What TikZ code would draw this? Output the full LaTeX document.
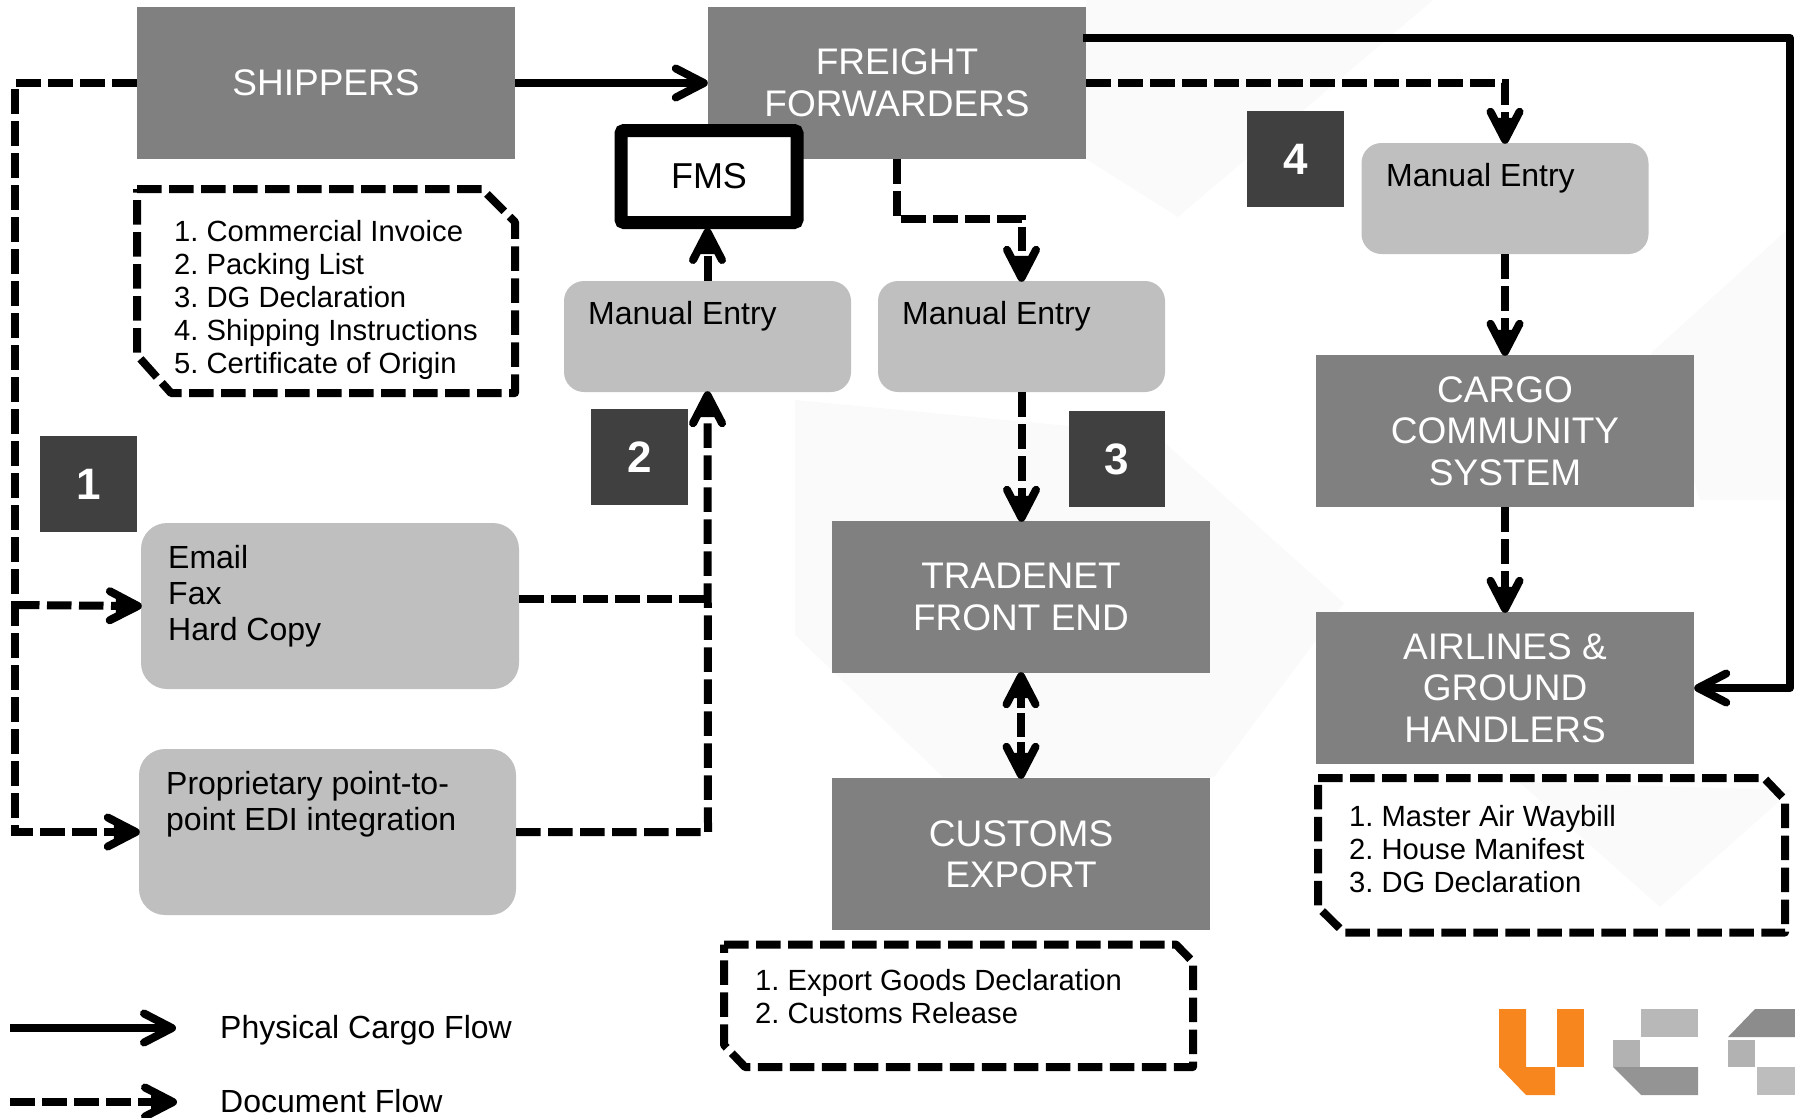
\documentclass[tikz,border=0pt]{standalone}
\usepackage{fontspec}
\setmainfont{Liberation Sans}
\usetikzlibrary{arrows.meta,calc}
\newcommand{\fsz}[2]{\fontsize{#1pt}{#2pt}\selectfont\frenchspacing}
\definecolor{boxgray}{HTML}{808080}
\definecolor{softgray}{HTML}{BFBFBF}
\definecolor{badgegray}{HTML}{404040}
\definecolor{logoorange}{HTML}{F7861E}
\definecolor{markgray}{HTML}{FAFAFA}
\tikzset{
  x=1pt,y=-1pt,
  darkbox/.style={fill=boxgray,text=white,inner sep=0,align=center,font=\fsz{37}{41.5}},
  softbox/.style={fill=softgray,rounded corners=20pt,inner sep=0},
  badge/.style={fill=badgegray,text=white,inner sep=0,font=\fsz{44}{50}\bfseries},
  lbl/.style={inner sep=0,anchor=west,align=left,text=black,font=\fsz{32}{36}},
  listlbl/.style={inner sep=0,anchor=north west,align=left,text=black,font=\fsz{29.2}{33}},
  chev/.tip={Straight Barb[length=28pt,width=29pt,round]},
  dchev/.tip={Straight Barb[length=28pt,width=29pt,round,sep=-26pt] Triangle[length=18pt,width=14pt]},
  solidflow/.style={draw=black,line width=8pt,-chev,line join=round},
  docflow/.style={draw=black,line width=8pt,dash pattern=on 24.5pt off 7.5pt,-dchev,line join=miter,shorten >=7pt},
  docline/.style={draw=black,line width=8pt,dash pattern=on 24.5pt off 7.5pt},
}
\begin{document}
\begin{tikzpicture}
\useasboundingbox (0,0) rectangle (1795,1117);
% faint watermark
\fill[markgray] (795,400) -- (1155,434) -- (1344,603) -- (1214,777) -- (943,777) -- (795,635) -- cycle;
\fill[markgray] (1086,0) -- (1433,0) -- (1178,217) -- (1086,159) -- cycle;
\fill[markgray] (1790,227) -- (1795,500) -- (1700,500) -- (1651,353) -- cycle;
\fill[markgray] (1519,782) -- (1792,790) -- (1660,907) -- cycle;
% dark boxes
\node[darkbox,minimum width=378pt,minimum height=152pt] (ship) at (326,83) {SHIPPERS};
\node[darkbox,minimum width=378pt,minimum height=152pt] (ff) at (897,83) {FREIGHT\\FORWARDERS};
\node[darkbox,minimum width=378pt,minimum height=152pt] (ccs) at (1505,431) {CARGO\\COMMUNITY\\SYSTEM};
\node[darkbox,minimum width=378pt,minimum height=152pt] (air) at (1505,688) {AIRLINES \&\\GROUND\\HANDLERS};
\node[darkbox,minimum width=378pt,minimum height=152pt] (tn) at (1021,597) {TRADENET\\FRONT END};
\node[darkbox,minimum width=378pt,minimum height=152pt] (cus) at (1021,854) {CUSTOMS\\EXPORT};
% FMS
\node[draw=black,fill=white,line width=13pt,rounded corners=3pt,minimum width=176pt,minimum height=92pt,inner sep=0,font=\fsz{36}{40}] (fms) at (709,176.5) {FMS};
% soft boxes
\node[softbox,minimum width=287pt,minimum height=111pt] (me1) at (707.5,336.5) {};
\node[softbox,minimum width=287pt,minimum height=111pt] (me2) at (1021.5,336.5) {};
\node[softbox,minimum width=287pt,minimum height=111pt] (me3) at (1505,198.5) {};
\node[softbox,minimum width=378pt,minimum height=166pt,rounded corners=26pt] (mail) at (330,606) {};
\node[softbox,minimum width=377pt,minimum height=166pt,rounded corners=26pt] (edi) at (327.5,832) {};
\node[lbl] (t1) at (588,316.5) {Manual Entry};
\node[lbl] (t2) at (902,316.5) {Manual Entry};
\node[lbl] (t3) at (1386,178.5) {Manual Entry};
\node[lbl] (t4) at (168,596.5) {Email\\Fax\\Hard Copy};
\node[lbl,anchor=north west] (t5) at (166,771.5) {Proprietary point-to-\\point EDI integration};
% badges
\node[badge,minimum width=97pt,minimum height=96pt] (b1) at (88.5,484) {1};
\node[badge,minimum width=97pt,minimum height=96pt] (b2) at (639.5,457) {2};
\node[badge,minimum width=96pt,minimum height=96pt] (b3) at (1117,459) {3};
\node[badge,minimum width=97pt,minimum height=96pt] (b4) at (1295.5,159) {4};
% document lists
\draw[docline,line join=round] (137,189) -- (482,189) -- (515,222) -- (515,393) -- (171,393) -- (137,355) -- cycle;
\draw[docline,line join=round] (724,944.5) -- (1176,944.5) -- (1193,962) -- (1193,1067) -- (745,1067) -- (724,1045) -- cycle;
\draw[docline,line join=round] (1318,778) -- (1764,778) -- (1785,800) -- (1785,932.5) -- (1344,932.5) -- (1318,907) -- cycle;
\node[listlbl] (l1) at (174,220) {1. Commercial Invoice\\2. Packing List\\3. DG Declaration\\4. Shipping Instructions\\5. Certificate of Origin};
\node[listlbl] (l2) at (755,969) {1. Export Goods Declaration\\2. Customs Release};
\node[listlbl] (l3) at (1349,805) {1. Master Air Waybill\\2. House Manifest\\3. DG Declaration};
% connectors
\draw[solidflow] (ship.east) -- (ff.west);
\coordinate (left) at (15,83);
\coordinate (mailin) at (15,605);
\coordinate (ediin) at (15,832);
\draw[docflow] (ship.west) -- (left) -- (ediin) -- (edi.west);
\draw[docflow] (mailin) -- (mail.west);
\coordinate (vert) at (708,832);
\coordinate (vertm) at (708,599);
\draw[docflow] (edi.east) -- (vert) -- (me1.south);
\draw[docline] (mail.east |- vertm) -- (vertm);
\draw[docflow] (me1.north) -- (me1.north |- fms.south);
\coordinate (ffb) at (897,219);
\draw[docflow] (ff.south) -- (ffb) -| (me2.north);
\draw[docflow] (me2.south) -- (tn.north -| me2.south);
\coordinate (tcup) at (1021,708);
\coordinate (tca) at (1021,713);
\coordinate (tcb) at (1021,737);
\coordinate (tcdn) at (1021,742);
\draw[docline] (tca) -- (tcb);
\draw[draw=black,line width=8pt,-dchev,shorten >=7pt] (tcup) -- (tn.south);
\draw[draw=black,line width=8pt,-dchev,shorten >=7pt] (tcdn) -- (cus.north);
\draw[docflow] (ff.east) -| (me3.north);
\coordinate (ffs) at (1083,38);
\coordinate (ffc) at (1790,38);
\draw[solidflow] (ffs) -- (ffc) |- (air.east);
\draw[docflow] (me3.south) -- (ccs.north);
\draw[docflow] (ccs.south) -- (air.north);
% legend
\coordinate (la) at (10,1028);
\coordinate (lb) at (176,1028);
\coordinate (lc) at (10,1102);
\coordinate (ld) at (176,1102);
\draw[solidflow] (la) -- (lb);
\draw[docflow] (lc) -- (ld);
\node[lbl] (lt1) at (220,1030) {Physical Cargo Flow};
\node[lbl] (lt2) at (220,1101) {Document Flow};
% logo
\fill[logoorange] (1499,1009) -- (1526,1009) -- (1526,1067) -- (1555,1067) -- (1555,1095) -- (1526,1095) -- (1499,1067) -- cycle;
\fill[logoorange] (1557,1009) rectangle (1584,1067);
\fill[black!28] (1641,1009) rectangle (1698,1037);
\fill[black!30] (1613,1040) rectangle (1640,1067);
\fill[black!42] (1613,1067) -- (1698,1067) -- (1698,1095) -- (1641,1095) -- cycle;
\fill[black!45] (1755,1009) -- (1795,1009) -- (1795,1037) -- (1728,1037) -- cycle;
\fill[black!30] (1728,1040) rectangle (1755,1067);
\fill[black!26] (1757,1067) rectangle (1795,1095);
\end{tikzpicture}
\end{document}
